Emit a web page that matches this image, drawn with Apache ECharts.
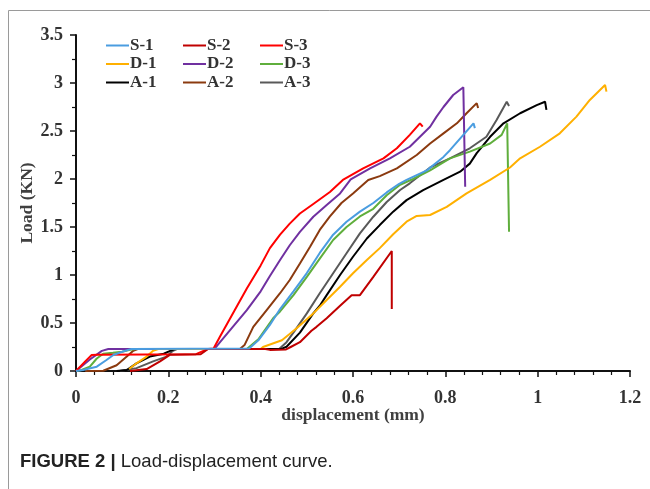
<!DOCTYPE html>
<html>
<head>
<meta charset="utf-8">
<script src="https://cdn.jsdelivr.net/npm/echarts@6/dist/echarts.min.js"></script>
<style>html,body{margin:0;padding:0;background:#fff;}#c{width:650px;height:489px;}</style>
</head>
<body>
<div id="c"></div>
<script>
// ---- data (x = displacement mm, y = load kN) ----
var seriesNames = ['S-1','S-2','S-3','D-1','D-2','D-3','A-1','A-2','A-3'];
var seriesColors = ['#4a9de0','#c00000','#ff0000','#ffb000','#7030a0','#5fae3c','#000000','#8b3a0f','#595959'];
var xTicks = [0, 0.2, 0.4, 0.6, 0.8, 1, 1.2];
var yTicks = [0, 0.5, 1, 1.5, 2, 2.5, 3, 3.5];

var S1 = [[0,0],[0.015,0.01],[0.045,0.045],[0.066,0.115],[0.081,0.167],[0.10,0.20],[0.12,0.23],[0.375,0.235],[0.395,0.32],[0.42,0.48],[0.442,0.645],[0.471,0.83],[0.50,1.02],[0.528,1.23],[0.557,1.42],[0.586,1.555],[0.615,1.66],[0.644,1.75],[0.673,1.86],[0.70,1.95],[0.716,1.99],[0.76,2.09],[0.796,2.23],[0.81,2.30],[0.839,2.46],[0.861,2.58],[0.864,2.53]];
var S2 = [[0.117,0],[0.153,0.02],[0.182,0.10],[0.204,0.17],[0.27,0.175],[0.286,0.23],[0.41,0.23],[0.42,0.22],[0.455,0.225],[0.465,0.25],[0.485,0.30],[0.51,0.42],[0.521,0.46],[0.543,0.55],[0.572,0.68],[0.597,0.79],[0.615,0.79],[0.644,0.98],[0.684,1.25],[0.684,0.645]];
var S3 = [[0,0],[0.02,0.10],[0.034,0.167],[0.045,0.17],[0.26,0.175],[0.286,0.23],[0.298,0.235],[0.312,0.36],[0.344,0.635],[0.37,0.86],[0.40,1.10],[0.42,1.28],[0.442,1.42],[0.463,1.535],[0.485,1.64],[0.514,1.74],[0.55,1.865],[0.578,1.99],[0.622,2.11],[0.666,2.215],[0.695,2.32],[0.723,2.46],[0.745,2.58],[0.749,2.60],[0.751,2.545]];
var D1 = [[0.115,0.02],[0.131,0.08],[0.153,0.15],[0.167,0.21],[0.18,0.23],[0.40,0.23],[0.405,0.25],[0.446,0.32],[0.478,0.445],[0.514,0.60],[0.543,0.74],[0.572,0.878],[0.60,1.018],[0.63,1.156],[0.658,1.28],[0.687,1.425],[0.716,1.555],[0.738,1.615],[0.767,1.625],[0.803,1.71],[0.846,1.85],[0.897,1.99],[0.94,2.12],[0.962,2.215],[1.005,2.336],[1.048,2.476],[1.084,2.65],[1.113,2.823],[1.146,2.98],[1.149,2.91]];
var D2 = [[0,0],[0.03,0.12],[0.056,0.21],[0.07,0.23],[0.30,0.23],[0.312,0.30],[0.37,0.635],[0.40,0.83],[0.42,0.99],[0.442,1.156],[0.463,1.31],[0.485,1.45],[0.514,1.607],[0.543,1.73],[0.572,1.85],[0.595,1.995],[0.637,2.11],[0.68,2.215],[0.723,2.336],[0.767,2.545],[0.781,2.65],[0.796,2.75],[0.817,2.875],[0.839,2.955],[0.843,1.92]];
var D3 = [[0,0],[0.012,0.01],[0.03,0.045],[0.045,0.13],[0.059,0.18],[0.08,0.19],[0.10,0.20],[0.117,0.22],[0.13,0.23],[0.37,0.23],[0.395,0.33],[0.427,0.55],[0.442,0.62],[0.471,0.79],[0.50,0.98],[0.528,1.17],[0.557,1.365],[0.586,1.50],[0.615,1.61],[0.644,1.69],[0.673,1.83],[0.702,1.94],[0.73,2.0],[0.767,2.09],[0.81,2.215],[0.853,2.285],[0.897,2.37],[0.922,2.46],[0.934,2.58],[0.938,1.45]];
var A1 = [[0.088,0],[0.11,0.01],[0.131,0.08],[0.16,0.15],[0.19,0.18],[0.204,0.21],[0.215,0.23],[0.445,0.23],[0.456,0.253],[0.485,0.40],[0.514,0.60],[0.528,0.68],[0.543,0.79],[0.572,1.0],[0.60,1.19],[0.63,1.38],[0.658,1.52],[0.687,1.66],[0.716,1.78],[0.752,1.885],[0.796,1.99],[0.832,2.076],[0.853,2.16],[0.868,2.27],[0.897,2.44],[0.926,2.58],[0.962,2.685],[0.998,2.77],[1.016,2.805],[1.019,2.72]];
var A2 = [[0.02,0],[0.059,0.003],[0.088,0.06],[0.11,0.15],[0.124,0.21],[0.135,0.23],[0.355,0.23],[0.365,0.27],[0.384,0.46],[0.413,0.635],[0.442,0.81],[0.463,0.948],[0.485,1.12],[0.507,1.295],[0.528,1.47],[0.55,1.61],[0.575,1.75],[0.60,1.85],[0.633,1.99],[0.658,2.03],[0.695,2.11],[0.738,2.25],[0.767,2.37],[0.796,2.475],[0.825,2.58],[0.846,2.685],[0.868,2.79],[0.871,2.74]];
var A3 = [[0.095,0],[0.131,0.03],[0.167,0.10],[0.196,0.15],[0.21,0.21],[0.22,0.23],[0.44,0.23],[0.456,0.30],[0.474,0.42],[0.50,0.60],[0.528,0.81],[0.557,1.018],[0.586,1.226],[0.615,1.434],[0.644,1.607],[0.673,1.76],[0.702,1.885],[0.723,1.955],[0.767,2.12],[0.81,2.215],[0.853,2.32],[0.889,2.44],[0.911,2.615],[0.933,2.805],[0.938,2.76]];
var seriesData = [S1,S2,S3,D1,D2,D3,A1,A2,A3];

// ---- build chart ----
var serif = '"Liberation Serif","Times New Roman",serif';
var sans = '"Liberation Sans",Arial,sans-serif';
var chart = echarts.init(document.getElementById('c'), null, {renderer:'canvas'});
var series = seriesNames.map(function(n,i){
  return {name:n, type:'line', data:seriesData[i], showSymbol:false, symbol:'none',
    lineStyle:{width:2, color:seriesColors[i]}, itemStyle:{color:seriesColors[i]}, z: 10 - i};
});
function legendCol(names, left){
  return {orient:'vertical', left:left, top:37, itemGap:1.5, itemWidth:23, itemHeight:2,
    icon:'rect', data:names, padding:0, selectedMode:false,
    textStyle:{fontFamily:serif, fontWeight:'bold', fontSize:17, color:'#333', padding:[0,0,0,-4]}};
}
chart.setOption({
  animation:false,
  backgroundColor:'#fff',
  grid:{left:76, right:20, top:35, bottom:118},
  legend:[legendCol(['S-1','D-1','A-1'],106), legendCol(['S-2','D-2','A-2'],183), legendCol(['S-3','D-3','A-3'],260)],
  xAxis:{type:'value', min:xTicks[0], max:xTicks[xTicks.length-1], interval:0.2,
    name:'displacement (mm)', nameLocation:'middle', nameGap:35, nameMoveOverlap:false,
    nameTextStyle:{fontFamily:serif, fontWeight:'bold', fontSize:17.5, color:'#404040'},
    axisLine:{lineStyle:{color:'#111', width:2}},
    axisTick:{length:6, lineStyle:{color:'#111', width:1.5}},
    minorTick:{show:true, splitNumber:5, length:4, lineStyle:{color:'#111', width:1.2}},
    splitLine:{show:false},
    axisLabel:{margin:18, fontFamily:serif, fontWeight:'bold', fontSize:18, color:'#333'}},
  yAxis:{type:'value', min:yTicks[0], max:yTicks[yTicks.length-1], interval:0.5,
    name:'Load (KN)', nameLocation:'middle', nameGap:40, nameMoveOverlap:false,
    nameTextStyle:{fontFamily:serif, fontWeight:'bold', fontSize:17.5, color:'#404040'},
    axisLine:{show:true, lineStyle:{color:'#111', width:2}},
    axisTick:{show:true, length:6, lineStyle:{color:'#111', width:1.5}},
    minorTick:{show:true, splitNumber:2, length:4, lineStyle:{color:'#111', width:1.2}},
    splitLine:{show:false},
    axisLabel:{margin:13, fontFamily:serif, fontWeight:'bold', fontSize:18, color:'#333'}},
  graphic:[
    {type:'rect', shape:{x:8.5, y:10.5, width:700, height:700}, style:{fill:'none', stroke:'#9a9a9a', lineWidth:1}, z:-1},
    {type:'text', left:20, top:452, style:{
      text:'{b|FIGURE 2 | }{n|Load-displacement curve.}',
      rich:{b:{fontFamily:sans, fontWeight:'bold', fontSize:18.5, fill:'#222'},
            n:{fontFamily:sans, fontSize:18.5, fill:'#222'}}}}
  ],
  series:series
});
</script>
</body>
</html>
